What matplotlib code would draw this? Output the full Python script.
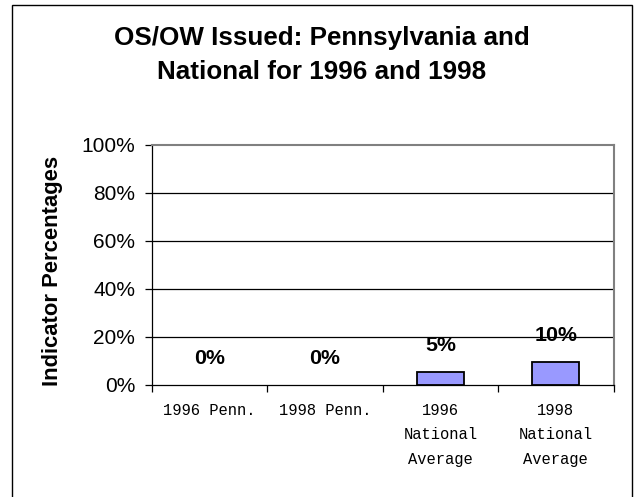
import matplotlib
matplotlib.use("Agg")
import matplotlib.pyplot as plt
import numpy as np
from matplotlib.patches import Rectangle

categories = ["1996 Penn.", "1998 Penn.", "1996\nNational\nAverage", "1998\nNational\nAverage"]
values     = [0, 0, 5.1, 9.3]
bar_labels = ["0%", "0%", "5%", "10%"]
yticks     = [0, 20, 40, 60, 80, 100]
ytick_lbls = ["0%", "20%", "40%", "60%", "80%", "100%"]
title_lines = ["OS/OW Issued: Pennsylvania and", "National for 1996 and 1998"]

plt.rcParams['font.family'] = ['Liberation Sans', 'DejaVu Sans']

W, H = 638, 497
fig = plt.figure(figsize=(W / 100, H / 100), dpi=100)
fig.patch.set_facecolor('white')

# outer frame (bottom edge cut off in reference)
fig.patches.append(Rectangle((12 / W, -0.05), (632 - 12) / W, 1.05 - 5 / H,
                             transform=fig.transFigure, fill=False,
                             edgecolor='black', linewidth=1.0))

ax = fig.add_axes([152 / W, 1 - 384.5 / H, (613.5 - 152) / W, (384.5 - 144.7) / H])

x = np.arange(len(categories))
lw = [1.3 if v > 0 else 0 for v in values]
ax.bar(x, values, width=0.41, color='#9999FF', edgecolor='black', linewidth=lw, zorder=3)

for xi, v, lb in zip(x, values, bar_labels):
    ax.annotate(lb, (xi, v), xytext=(0, 19), textcoords='offset points',
                ha='center', va='center', fontsize=15.4, fontweight='bold')

ax.set_xlim(-0.5, len(categories) - 0.5)
ax.set_ylim(0, 100)

for g in yticks[1:-1]:
    ax.axhline(g, color='black', linewidth=0.9, zorder=1)

ax.set_yticks(yticks)
ax.set_yticklabels(ytick_lbls, fontsize=15)
ax.tick_params(axis='y', direction='out', length=5, width=0.9, pad=7)

# ticks at category boundaries, labels at centres
ax.set_xticks(np.arange(len(categories) + 1) - 0.5)
ax.set_xticklabels([])
ax.tick_params(axis='x', which='major', direction='out', length=5, width=0.9)
ax.set_xticks(x, minor=True)
ax.set_xticklabels(categories, minor=True, fontsize=11.2,
                   family=['Liberation Mono', 'DejaVu Sans Mono'], linespacing=1.82)
ax.tick_params(axis='x', which='minor', length=0, pad=13)

for s in ['left', 'bottom']:
    ax.spines[s].set_color('black')
    ax.spines[s].set_linewidth(0.9)
for s in ['top', 'right']:
    ax.spines[s].set_color('#808080')
    ax.spines[s].set_linewidth(1.5)

fig.text(53 / W, 1 - 271 / H, "Indicator Percentages", rotation=90,
         ha='center', va='center', fontsize=15.8, fontweight='bold')

for line, base in zip(title_lines, [45, 79]):
    fig.text(322 / W, 1 - base / H, line, ha='center', va='baseline',
             fontsize=18.7, fontweight='bold')

fig.savefig("out.png", dpi=100)
